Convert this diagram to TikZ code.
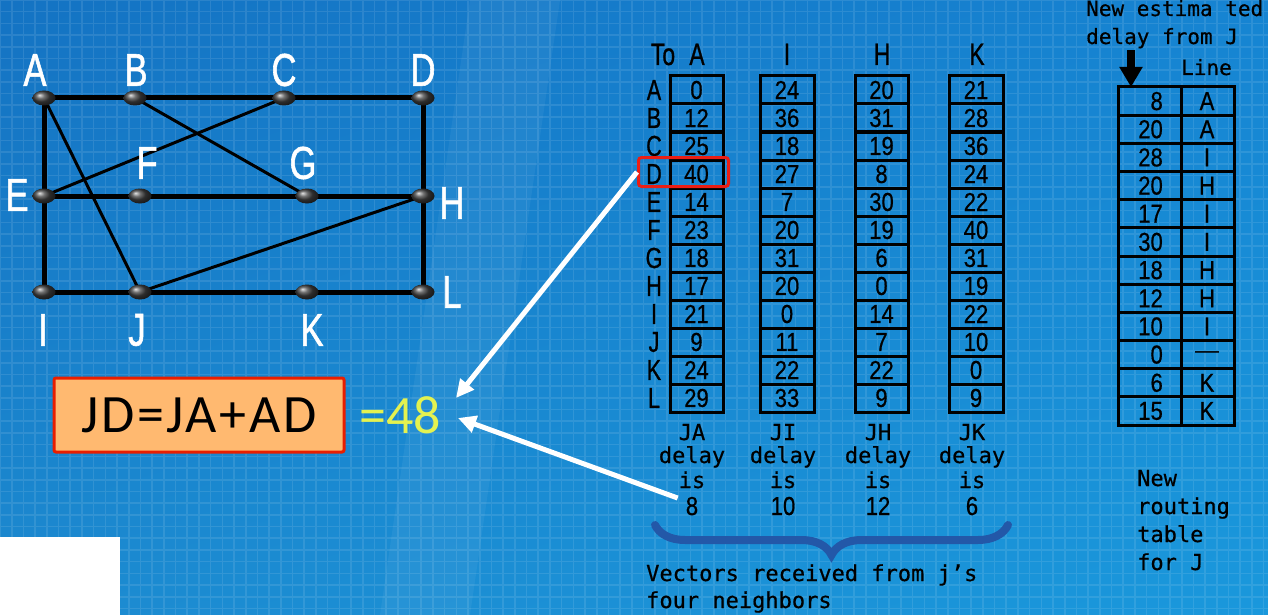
\documentclass[tikz,border=0pt]{standalone}
\usepackage{fontspec}
\usetikzlibrary{arrows.meta,decorations.pathreplacing,shapes.geometric,shadings,calc}
\newfontfamily\gfont[FakeStretch=0.75,FakeBold=1.2]{Liberation Sans}
\newfontfamily\rfont[FakeStretch=0.74,FakeBold=0.8]{Liberation Sans}
\newfontfamily\dfont[FakeStretch=0.85,FakeBold=0.6]{Liberation Sans}
\newfontfamily\mfont[FakeBold=0.5]{DejaVu Sans Mono}
\newfontfamily\cfont[LetterSpace=5]{Carlito}
\newfontfamily\yfont{Carlito}
\newfontfamily\dashfont{Liberation Sans}
\definecolor{bgUL}{RGB}{20,115,195}
\definecolor{bgUR}{RGB}{22,132,210}
\definecolor{bgLL}{RGB}{28,138,208}
\definecolor{bgLR}{RGB}{26,152,220}
\definecolor{bracecol}{RGB}{35,88,168}
\definecolor{fboxfill}{RGB}{255,185,112}
\definecolor{fboxline}{RGB}{232,30,0}
\definecolor{yel}{RGB}{228,242,80}
\definecolor{hired}{RGB}{235,30,20}
\begin{document}
\begin{tikzpicture}[x=1pt,y=-1pt,
  glabel/.style={text=white,font=\gfont\fontsize{46}{46}\selectfont,inner sep=0pt},
  thickedge/.style={line width=5pt,black},
  thinedge/.style={line width=3pt,black},
  vertex/.style={ellipse,minimum width=23pt,minimum height=15pt,inner sep=0pt,ball color=black!75},
  cell/.style={draw=black,line width=3pt,minimum height=28pt,inner sep=0pt,font=\dfont\fontsize{26}{26}\selectfont},
  ncell/.style={draw=black,line width=3pt,minimum height=28.17pt,inner sep=0pt},
  ntext/.style={inner sep=0pt,font=\dfont\fontsize{26}{26}\selectfont},
  rowlab/.style={inner sep=0pt,font=\rfont\fontsize{29}{29}\selectfont},
  mono/.style={inner sep=0pt,font=\mfont\fontsize{22}{22}\selectfont,anchor=base},
  warrow/.style={white,line width=5pt,-{Triangle[length=18pt,width=17pt]}}
]
\useasboundingbox (0,0) rectangle (1268,615);
% background
\shade[upper left=bgUL,upper right=bgUR,lower left=bgLL,lower right=bgLR] (0,0) rectangle (1268,615);
\draw[white,opacity=0.10,line width=1.6pt] (0,0) grid[step=11.7pt] (1268,615);
\fill[white,opacity=0.05] (380,615) -- (470,0) -- (560,0) -- (470,615) -- cycle;
\fill[white] (0,537) rectangle (120,615);

% graph vertices (coordinates)
\coordinate (A) at (44,98);  \coordinate (B) at (135,98);
\coordinate (C) at (284,98); \coordinate (D) at (423,98);
\coordinate (E) at (44,196); \coordinate (F) at (140,196);
\coordinate (G) at (307,196);\coordinate (H) at (423,196);
\coordinate (I) at (44,292); \coordinate (J) at (140,292);
\coordinate (K) at (307,292);\coordinate (L) at (423,292);
\draw[thickedge] (A) -- (B) -- (C) -- (D) -- (H) -- (L);
\draw[thickedge] (A) -- (E) -- (I);
\draw[thickedge] (E) -- (F) -- (G) -- (H);
\draw[thickedge] (I) -- (J) -- (K) -- (L);
\draw[thinedge] (A) -- (J);
\draw[thinedge] (B) -- (G);
\draw[thinedge] (C) -- (E);
\draw[thinedge] (J) -- (H);
\foreach \v in {A,B,C,D,E,F,G,H,I,J,K,L}{\node[vertex] (v\v) at (\v) {};}
% graph labels
\node[glabel] (lA) at (35,70) {A};
\node[glabel] (lB) at (136,70) {B};
\node[glabel] (lC) at (284,70) {C};
\node[glabel] (lD) at (423,70) {D};
\node[glabel] (lE) at (17,195) {E};
\node[glabel] (lF) at (147,163) {F};
\node[glabel] (lG) at (303,163) {G};
\node[glabel] (lH) at (452,203) {H};
\node[glabel] (lI) at (43,330) {I};
\node[glabel] (lJ) at (137,330) {J};
\node[glabel] (lK) at (312,330) {K};
\node[glabel] (lL) at (452,292) {L};

% tables of neighbours
\node[rowlab,anchor=base,font=\rfont\fontsize{31}{31}\selectfont] (hTo) at (663,65) {To};
\node[rowlab,anchor=base,font=\rfont\fontsize{31}{31}\selectfont] (hA) at (697,65) {A};
\node[rowlab,anchor=base,font=\rfont\fontsize{31}{31}\selectfont] (hI) at (787,65) {I};
\node[rowlab,anchor=base,font=\rfont\fontsize{31}{31}\selectfont] (hH) at (882,65) {H};
\node[rowlab,anchor=base,font=\rfont\fontsize{31}{31}\selectfont] (hK) at (977,65) {K};
\foreach \l [count=\i] in {A,B,C,D,E,F,G,H,I,J,K,L}{
  \node[rowlab] (r\i) at (654,{76+28*(\i-0.5)}) {\l};
}
\foreach \v [count=\i] in {0,12,25,40,14,23,18,17,21,9,24,29}{
  \node[cell,minimum width=53pt] (ca\i) at (696.5,{76+28*(\i-0.5)}) {\v};}
\foreach \v [count=\i] in {24,36,18,27,7,20,31,20,0,11,22,33}{
  \node[cell,minimum width=54pt] (ci\i) at (787,{76+28*(\i-0.5)}) {\v};}
\foreach \v [count=\i] in {20,31,19,8,30,19,6,0,14,7,22,9}{
  \node[cell,minimum width=53pt] (ch\i) at (881.5,{76+28*(\i-0.5)}) {\v};}
\foreach \v [count=\i] in {21,28,36,24,22,40,31,19,22,10,0,9}{
  \node[cell,minimum width=54pt] (ck\i) at (976,{76+28*(\i-0.5)}) {\v};}
% red highlight
\node[draw=hired,line width=3pt,rounded corners=3pt,minimum width=90pt,minimum height=29pt,inner sep=0pt] (hl) at (683.5,172) {};

% captions below tables
\foreach \n/\x/\d in {A/692/8,I/783/10,H/878/12,K/972/6}{
  \node[mono] (c1\n) at (\x,440) {J\n};
  \node[mono] (c2\n) at (\x,463) {delay};
  \node[mono] (c3\n) at (\x,488) {is};
  \node[mono,font=\dfont\fontsize{26}{26}\selectfont] (c4\n) at (\x,515) {\d};
}
\coordinate (brL) at (655,525);
\coordinate (brR) at (1008,525);
\draw[bracecol,line width=8pt,line cap=round,decorate,decoration={brace,amplitude=30pt,mirror}] (brL) -- (brR);
\node[mono,anchor=base west] (vec1) at (646,581) {Vectors received from j’s};
\node[mono,anchor=base west] (vec2) at (646,608) {four neighbors};

% new routing table
\node[mono,anchor=base west,font=\mfont\fontsize{21}{21}\selectfont] (ne1) at (1086,16) {New estima ted};
\node[mono,anchor=base west,font=\mfont\fontsize{21}{21}\selectfont] (ne2) at (1086,44) {delay from J};
\node[mono,anchor=base west,font=\mfont\fontsize{21}{21}\selectfont] (line) at (1181,75) {Line};
\coordinate (arT) at (1131,50);
\coordinate (arB) at (1131,87);
\draw[black,line width=8pt,-{Triangle[length=20pt,width=22pt]}] (arT) -- (arB);
\foreach \d [count=\i] in {8,20,28,20,17,30,18,12,10,0,6,15}{
  \node[ncell,minimum width=63pt] (nd\i) at (1149.5,{87+28.17*(\i-0.5)}) {};
  \node[ncell,minimum width=53pt] (nl\i) at (1207.5,{87+28.17*(\i-0.5)}) {};
  \node[ntext,anchor=east] (nv\i) at (1163,{87+28.17*(\i-0.5)}) {\d};
}
\foreach \r [count=\i] in {A,A,I,H,I,I,H,H,I,{},K,K}{
  \node[ntext] (nr\i) at (1207,{87+28.17*(\i-0.5)}) {\r};
}
\node[inner sep=0pt,font=\dashfont\fontsize{24}{24}\selectfont] (nr10d) at (1207,{87+28.17*9.5}) {—};
\node[mono,anchor=base west] (nt1) at (1137,486) {New};
\node[mono,anchor=base west] (nt2) at (1137,514) {routing};
\node[mono,anchor=base west] (nt3) at (1137,542) {table};
\node[mono,anchor=base west] (nt4) at (1137,570) {for J};

% formula
\node[draw=fboxline,line width=3pt,fill=fboxfill,rounded corners=2pt,minimum width=290pt,minimum height=74pt,inner sep=0pt,font=\cfont\fontsize{54}{54}\selectfont] (form) at (199,415) {JD=JA+AD};
\node[inner sep=0pt,text=yel,font=\yfont\fontsize{54}{54}\selectfont] (res) at (400,415) {=48};
\coordinate (tip1) at (456,398);
\coordinate (tip2) at (458,418);
\draw[warrow] (hl.west) -- (tip1);
\draw[warrow] ($(c4A.west)+(-8,-8)$) -- (tip2);
\end{tikzpicture}
\end{document}
